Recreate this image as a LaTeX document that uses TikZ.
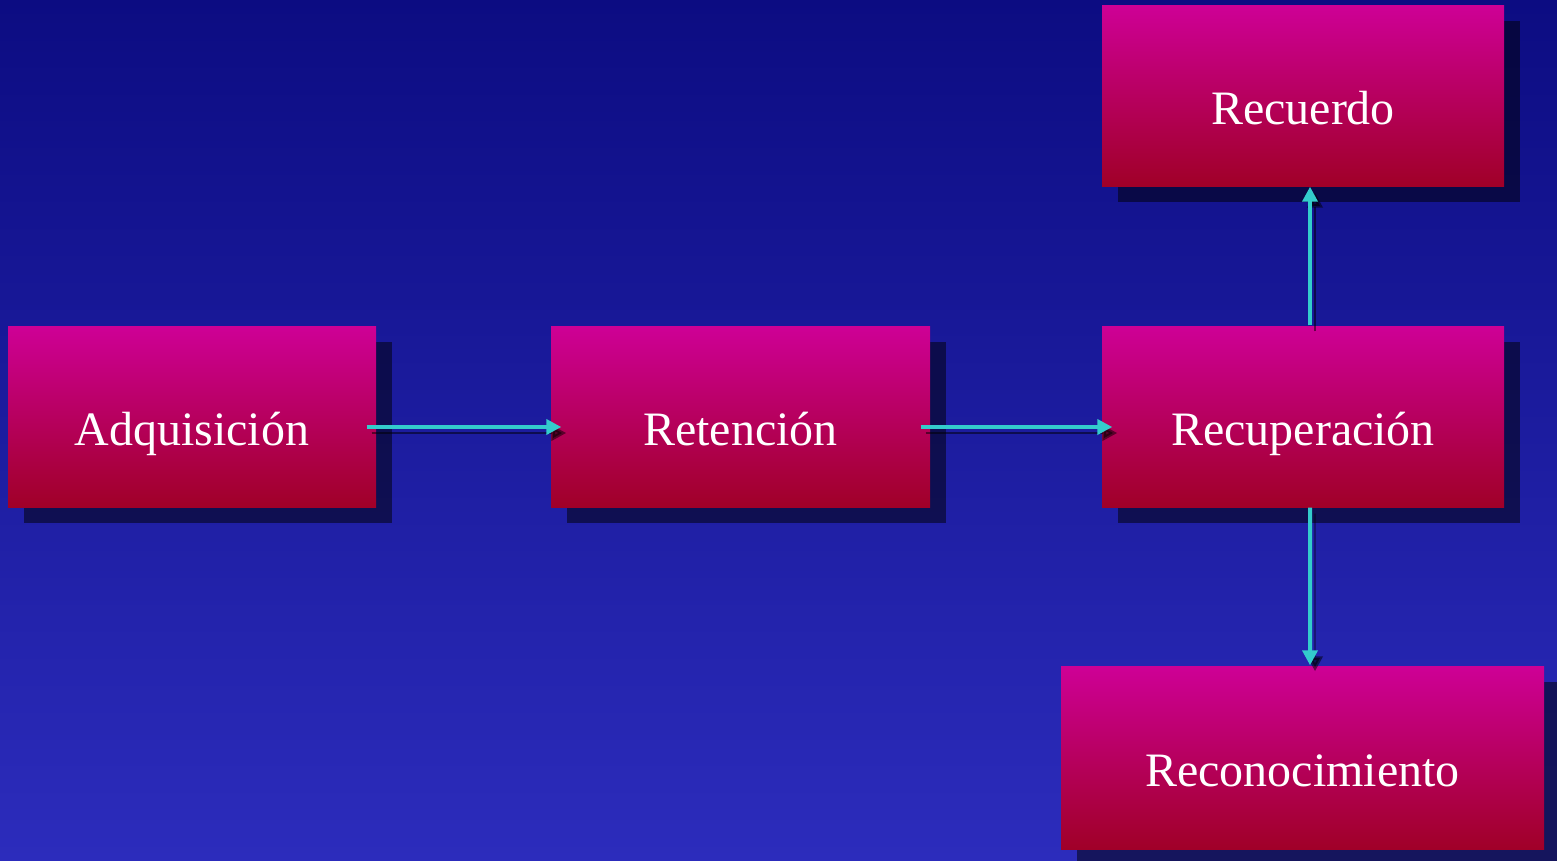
\documentclass[tikz,border=0pt]{standalone}
\usepackage{fontspec}
\setmainfont{Liberation Serif}
\usepackage{tikz}
\usetikzlibrary{arrows.meta}
\usetikzlibrary{shadows}
\definecolor{bgtop}{RGB}{12,12,130}
\definecolor{bgbot}{RGB}{44,44,188}
\definecolor{boxtop}{RGB}{206,0,150}
\definecolor{boxbot}{RGB}{160,0,40}
\definecolor{flowcyan}{RGB}{51,204,204}
\tikzstyle{stage}=[top color=boxtop,bottom color=boxbot,draw=none,inner sep=0pt,
  text=white,font=\fontsize{13.65pt}{16pt}\selectfont,text height=0.6cm,text depth=0.03cm,
  drop shadow={shadow xshift=0.16cm,shadow yshift=-0.16cm,fill=black,opacity=0.5}]
\tikzstyle{flow}=[draw=flowcyan,line width=0.04cm,-{Triangle[length=0.15cm,width=0.15cm]},
  preaction={draw=black,opacity=0.5,transform canvas={shift={(0.05cm,-0.06cm)}}}]

\begin{document}
\begin{tikzpicture}

        \shade[top color=bgtop,bottom color=bgbot] (0,0) rectangle (15.57,-8.60);
        \useasboundingbox (0,0) rectangle (15.57,-8.60);

        \foreach \n/\x/\y/\w/\h/\t in {adq/1.92/-4.165/3.68/1.81/Adquisición,
          ret/7.405/-4.165/3.79/1.81/Retención,
          rcp/13.03/-4.165/4.02/1.81/Recuperación,
          rcd/13.03/-0.955/4.02/1.81/Recuerdo,
          rcn/13.025/-7.575/4.83/1.83/Reconocimiento}{
          \node[stage,minimum width=\w cm,minimum height=\h cm] (\n) at (\x,\y) {\t};
        }

        \draw[flow] ([shift={(-0.1,-0.105)}]adq.east) -- ([shift={(0.11,-0.105)}]ret.west);
        \draw[flow] ([shift={(-0.1,-0.105)}]ret.east) -- ([shift={(0.11,-0.105)}]rcp.west);
        \draw[flow] ([xshift=0.07cm]rcp.north) -- ([xshift=0.07cm]rcd.south);
        \draw[flow] ([xshift=0.07cm]rcp.south) -- ([xshift=0.075cm]rcn.north);
\end{tikzpicture}
\end{document}
